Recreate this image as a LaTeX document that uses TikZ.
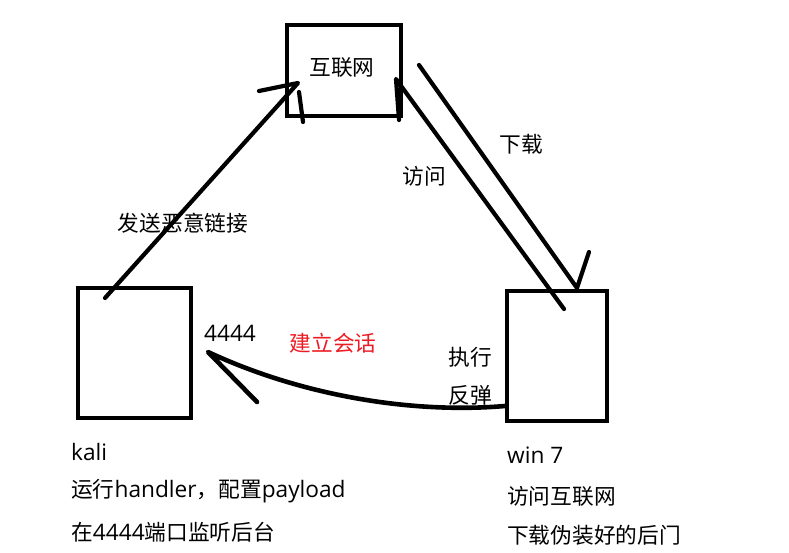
\documentclass[tikz,border=0pt]{standalone}
\usepackage{fontspec}
\setmainfont{Noto Sans CJK SC}
\newfontfamily\latf{Open Sans}[Scale=1.045]
\definecolor{paintred}{RGB}{237,28,36}
\begin{document}
\begin{tikzpicture}[x=1pt,y=-1pt,
  box/.style={draw,line width=4.3pt,inner sep=0pt,outer sep=0pt},
  conn/.style={line width=4.2pt,line cap=round,line join=round},
  lbl/.style={inner sep=0pt,font=\fontsize{21.7}{26}\selectfont},
  note/.style={lbl,anchor=west}]
\useasboundingbox[fill=white] (0,0) rectangle (789,552);
% boxes
\node[box,minimum width=114pt,minimum height=91pt] (net) at (344,70.5) {};
\node[box,minimum width=113pt,minimum height=130pt] (kali) at (134.5,353) {};
\node[box,minimum width=100pt,minimum height=130pt] (win) at (557,356) {};
\node[lbl] (netlbl) at (342,68) {互联网};
% arrow 1: kali -> internet
\draw[conn] ([shift={(-85,20.5)}]net.center) -- ([shift={(-46,12.5)}]net.center) -- ([shift={(-29.5,-55)}]kali.center);
\draw[conn] ([shift={(-45,21.5)}]net.center) -- ([shift={(-41,51.5)}]net.center);
% arrow 2: win -> internet (访问)
\draw[conn] ([shift={(55,49.5)}]net.center) -- ([shift={(52,8.5)}]net.center) -- ([shift={(7,-47)}]win.center);
% arrow 3: internet -> win (下载)
\draw[conn] ([shift={(75,-5.5)}]net.center) -- ([shift={(20,-68)}]win.center) -- ([shift={(32,-104)}]win.center);
% curved arrow: win -> kali
\draw[conn,line width=4.6pt] ([shift={(-52,50)}]win.center) .. controls (410,414) and (300,395) .. ([shift={(73.5,-1)}]kali.center) -- ([shift={(122.5,49)}]kali.center);
% labels
\node[lbl] (l1) at (183,223) {发送恶意链接};
\node[lbl] (l2) at (521,144) {下载};
\node[lbl] (l3) at (424,176) {访问};
\node[lbl] (l4) at (230,333) {\latf 4444};
\node[lbl,text=paintred] (l5) at (333,343) {建立会话};
\node[lbl] (l6) at (470,357) {执行};
\node[lbl] (l7) at (470,395) {反弹};
\node[note] (k1) at (71,452) {\latf kali};
\node[note] (k2) at (71,491) {运行{\latf handler}，配置{\latf payload}};
\node[note] (k3) at (71,532) {在{\latf 4444}端口监听后台};
\node[note] (w1) at (507,455) {\latf win 7};
\node[note] (w2) at (507,496) {访问互联网};
\node[note] (w3) at (507,535) {下载伪装好的后门};
\end{tikzpicture}
\end{document}
